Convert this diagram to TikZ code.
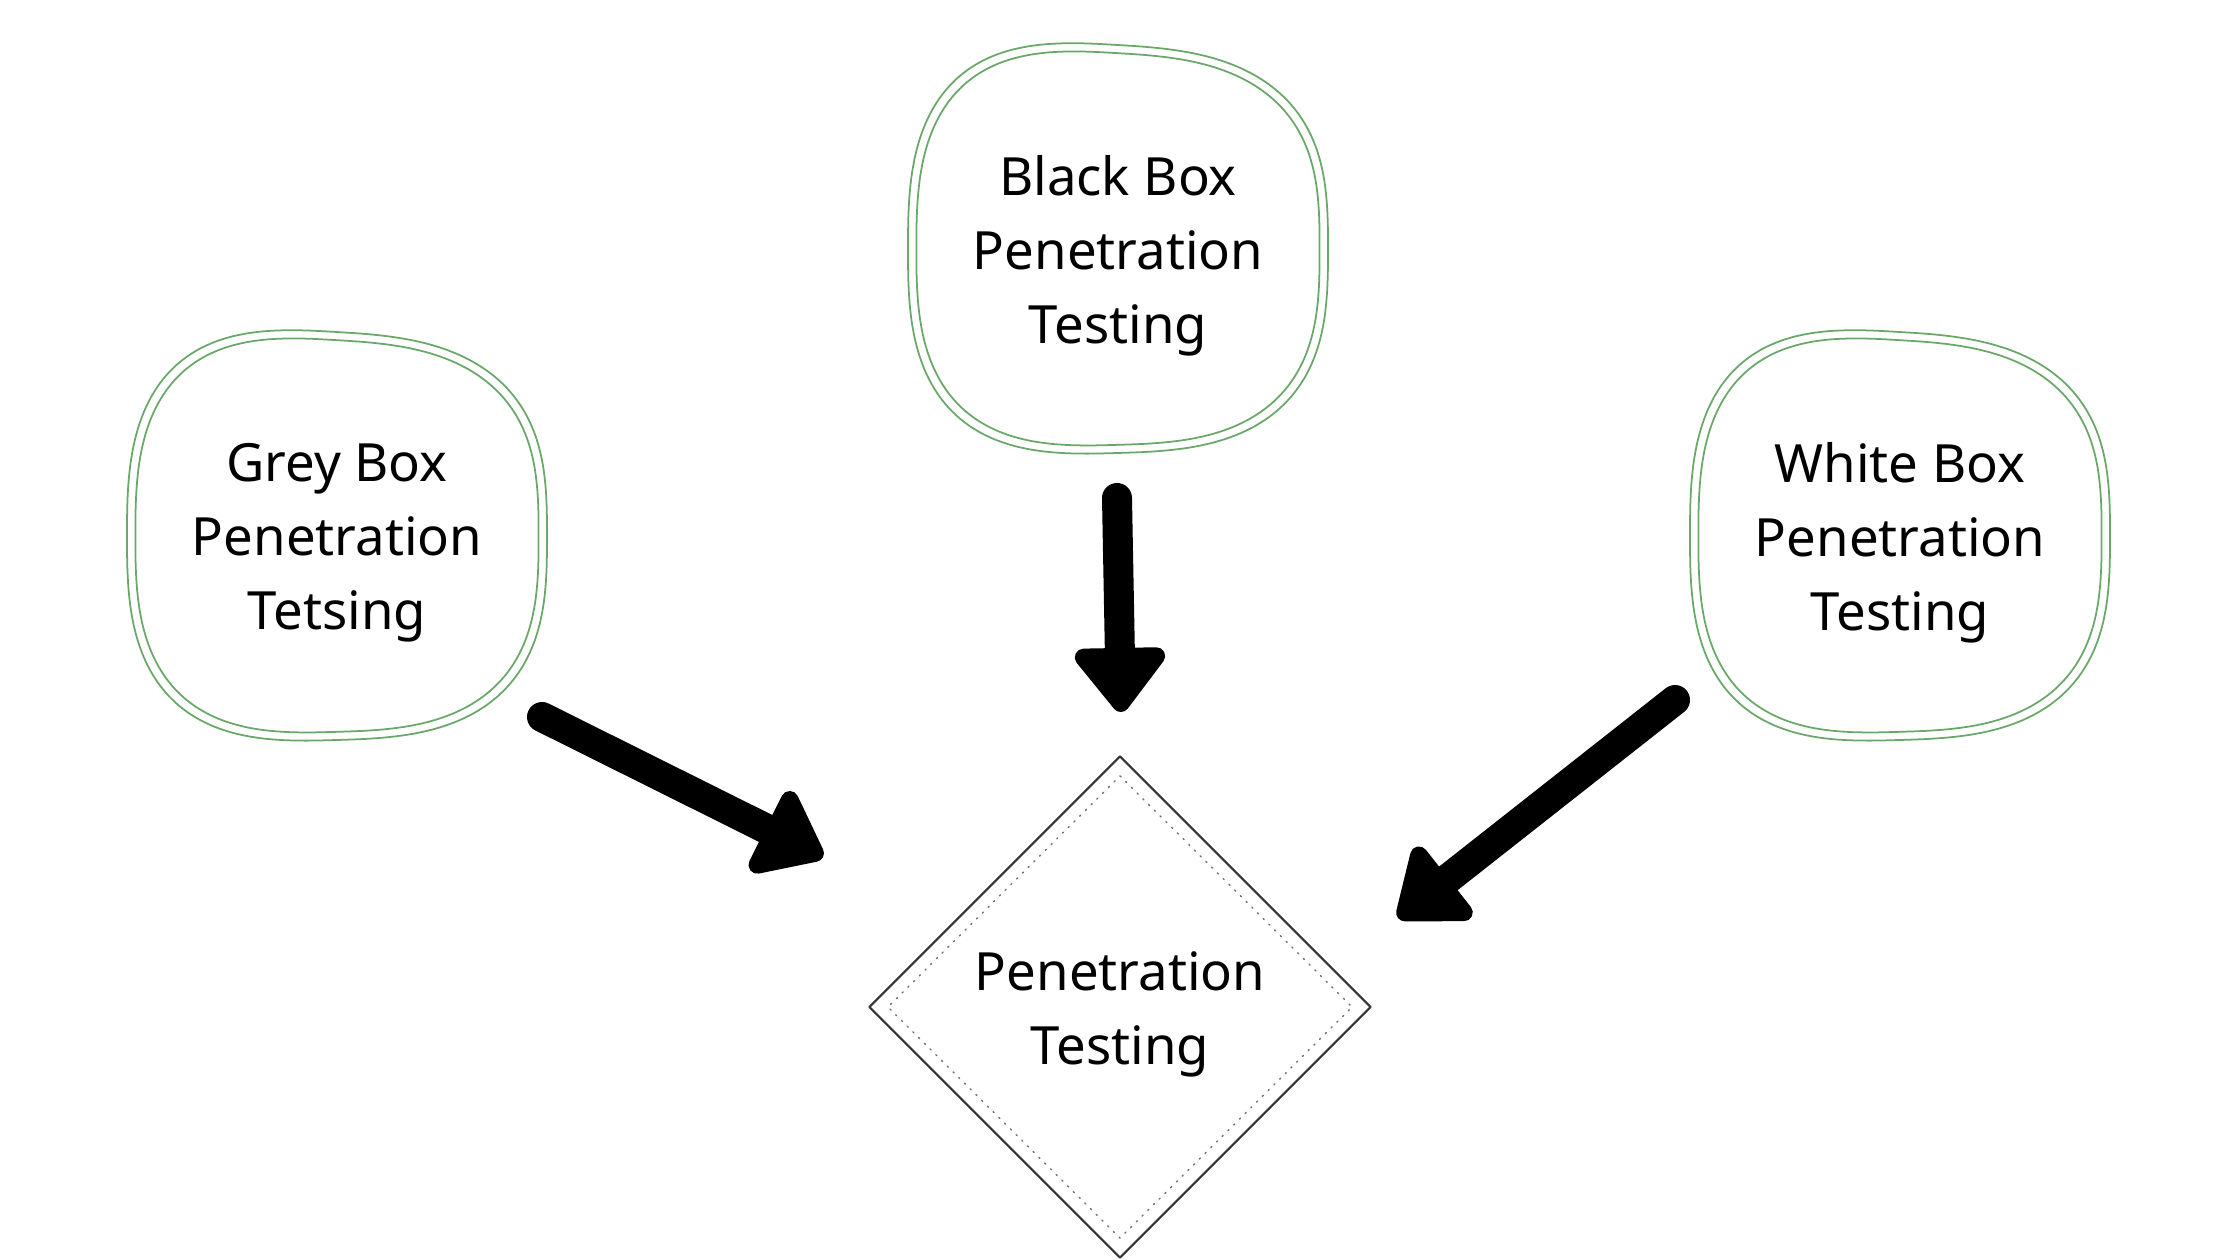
\documentclass[tikz,border=0pt]{standalone}
\usepackage{fontspec}
\setmainfont{Noto Sans}
\usetikzlibrary{shapes.geometric,arrows.meta,calc}
\definecolor{blobgreen}{RGB}{106,168,106}
\definecolor{darkline}{RGB}{51,51,51}

\begin{document}
\begin{tikzpicture}[x=0.1mm, y=-0.1mm, line cap=round, line join=round,
    boxtext/.style={align=center, font=\fontsize{15}{21}\selectfont},
    blobline/.style={draw=blobgreen, line width=0.5pt},
    dotline/.style={draw=darkline!70, line width=0.4pt, dash pattern=on 0.4pt off 1.9pt},
    fatarrow/.style={line width=3mm, -{Triangle[width=10.4mm,length=7mm,round]}}]
  \useasboundingbox (0,0) rectangle (2240,1260);

  % Cac o kiem thu
  \node[boxtext] (grey) at (337,543) {Grey Box\\Penetration\\Tetsing};
  \node[boxtext] (black) at (1118,256) {Black Box\\Penetration\\Testing};
  \node[boxtext] (white) at (1900,543) {White Box\\Penetration\\Testing};

  % Vien xanh hai lop
  \foreach \b in {grey,black,white}{
    \foreach \s in {1,0.96}{
      \draw[blobline, shift={($(\b)+(0,-7)$)}, scale=\s]
        plot[smooth cycle, domain=2.5:357.5, samples=72, variable=\t]
        ({210*cos(\t)*abs(cos(\t))^(-0.3)},
         {204*sin(\t)*abs(sin(\t))^(-0.3)
          + 12.6*cos(\t)*abs(cos(\t))^(-0.3)*max(-sin(\t),0)
          - 6.3*cos(\t)*abs(cos(\t))^(-0.3)*max(sin(\t),0)});
    }
  }

  % Hinh thoi o giua
  \node[diamond, draw=darkline, line width=0.6pt,
        minimum width=50.2mm, minimum height=50.2mm] (pentest) at (1120,1007) {};
  \draw[dotline] ($(pentest.north)+(0,21)$) -- ($(pentest.east)+(-20,0)$)
    -- ($(pentest.south)+(0,-21)$) -- ($(pentest.west)+(20,0)$) -- cycle;
  \node[boxtext] (pentestlabel) at (1120,1014) {Penetration\\Testing};

  % Cac mui ten
  \coordinate (greyfrom) at (542,717);
  \coordinate (greyto) at (823,857);
  \coordinate (blackfrom) at (1117,498);
  \coordinate (blackto) at (1121,712);
  \coordinate (whitefrom) at (1675,700);
  \coordinate (whiteto) at (1398,918);
  \draw[fatarrow] (greyfrom) -- (greyto);
  \draw[fatarrow] (blackfrom) -- (blackto);
  \draw[fatarrow] (whitefrom) -- (whiteto);
\end{tikzpicture}
\end{document}
